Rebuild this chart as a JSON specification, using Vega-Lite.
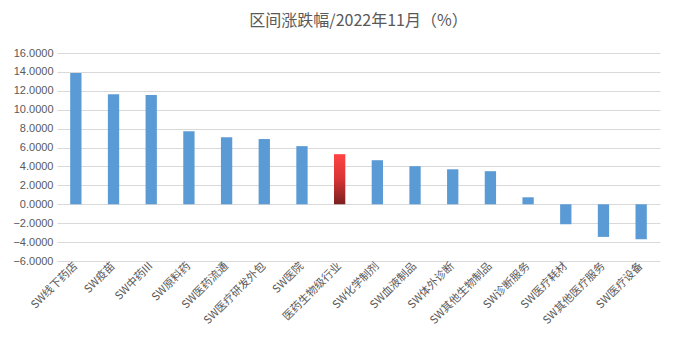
{
  "$schema": "https://vega.github.io/schema/vega-lite/v6.json",
  "autosize": {"type": "none"},
  "width": 603,
  "height": 208,
  "padding": {"left": 57, "top": 53, "right": 15, "bottom": 94},
  "background": "white",
  "title": {
    "text": "区间涨跌幅/2022年11月（%）",
    "font": "Noto Sans CJK SC",
    "fontSize": 16,
    "fontWeight": "normal",
    "color": "#595959",
    "offset": 18,
    "anchor": "middle"
  },
  "data": {
    "values": [
      {"name": "SW线下药店", "value": 13.88, "type": "sw"},
      {"name": "SW疫苗", "value": 11.65, "type": "sw"},
      {"name": "SW中药III", "value": 11.55, "type": "sw"},
      {"name": "SW原料药", "value": 7.73, "type": "sw"},
      {"name": "SW医药流通", "value": 7.1, "type": "sw"},
      {"name": "SW医疗研发外包", "value": 6.9, "type": "sw"},
      {"name": "SW医院", "value": 6.15, "type": "sw"},
      {"name": "医药生物级行业", "value": 5.3, "type": "total"},
      {"name": "SW化学制剂", "value": 4.66, "type": "sw"},
      {"name": "SW血液制品", "value": 4.03, "type": "sw"},
      {"name": "SW体外诊断", "value": 3.7, "type": "sw"},
      {"name": "SW其他生物制品", "value": 3.5, "type": "sw"},
      {"name": "SW诊断服务", "value": 0.74, "type": "sw"},
      {"name": "SW医疗耗材", "value": -2.1, "type": "sw"},
      {"name": "SW其他医疗服务", "value": -3.45, "type": "sw"},
      {"name": "SW医疗设备", "value": -3.7, "type": "sw"}
    ]
  },
  "encoding": {
    "x": {
      "field": "name",
      "type": "nominal",
      "sort": null,
      "scale": {
        "domain": ["SW线下药店", "SW疫苗", "SW中药III", "SW原料药", "SW医药流通", "SW医疗研发外包", "SW医院", "医药生物级行业", "SW化学制剂", "SW血液制品", "SW体外诊断", "SW其他生物制品", "SW诊断服务", "SW医疗耗材", "SW其他医疗服务", "SW医疗设备"],
        "paddingInner": 0.7,
        "paddingOuter": 0.35
      },
      "axis": {
        "title": null,
        "labelAngle": -45,
        "labelAlign": "right",
        "labelBaseline": "middle",
        "labelFont": "Noto Sans CJK SC",
        "labelFontSize": 11,
        "labelColor": "#595959",
        "labelPadding": 3,
        "ticks": false,
        "domain": false,
        "grid": false
      }
    },
    "y": {
      "field": "value",
      "type": "quantitative",
      "scale": {"domain": [-6, 16], "nice": false},
      "axis": {
        "title": null,
        "values": [-6, -4, -2, 0, 2, 4, 6, 8, 10, 12, 14, 16],
        "format": ".4f",
        "labelFont": "Liberation Sans",
        "labelFontSize": 11,
        "labelColor": "#595959",
        "ticks": false,
        "domain": false,
        "gridColor": "#d9d9d9",
        "labelPadding": 4
      }
    }
  },
  "layer": [
    {
      "mark": {"type": "bar", "color": "#5b9bd5"},
      "transform": [{"filter": "datum.type == 'sw'"}]
    },
    {
      "mark": {
        "type": "bar",
        "color": {
          "gradient": "linear",
          "x1": 0, "y1": 0, "x2": 0, "y2": 1,
          "stops": [
            {"offset": 0, "color": "#ff4444"},
            {"offset": 0.5, "color": "#d83434"},
            {"offset": 1, "color": "#7a2020"}
          ]
        }
      },
      "transform": [{"filter": "datum.type == 'total'"}]
    }
  ],
  "config": {"view": {"stroke": null}}
}
